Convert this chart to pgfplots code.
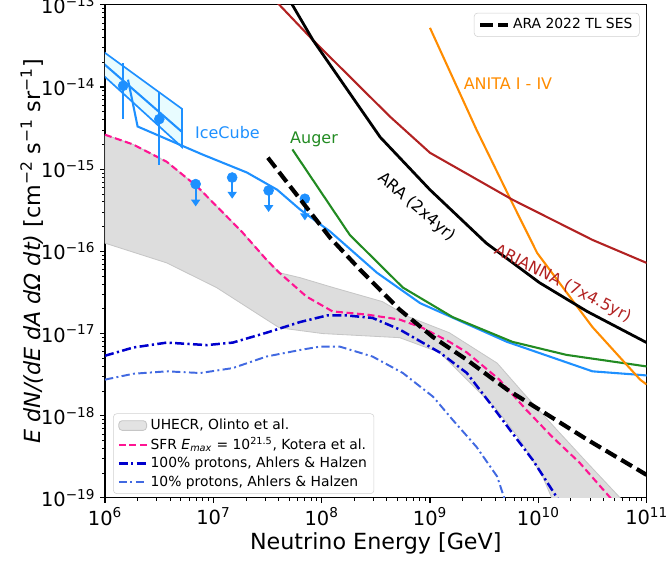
\documentclass[border=0pt]{standalone}
\usepackage{fontspec}
\setmainfont{DejaVu Sans}
\usepackage{pgfplots}
\pgfplotsset{compat=1.18}
\usetikzlibrary{arrows.meta}

\definecolor{icecube}{HTML}{1E90FF}
\definecolor{auger}{HTML}{228B22}
\definecolor{anita}{HTML}{FF8C00}
\definecolor{arianna}{HTML}{B22222}
\definecolor{sfr}{HTML}{FF1493}
\definecolor{prot100}{HTML}{0000CD}
\definecolor{prot10}{HTML}{4169E1}
\definecolor{band}{HTML}{DDDDDD}
\definecolor{bandedge}{HTML}{C6C6C6}
\definecolor{icebox}{HTML}{E8FCFF}

\pgfplotsset{
  legend image code/.code={\draw[#1] (0pt,0pt) -- (20pt,0pt);},
}

\begin{document}
\begin{tikzpicture}
\begin{axis}[name=main,
  scale only axis, width=390pt, height=355pt,
  xmode=log, ymode=log,
  xmin=1e6, xmax=1e11, ymin=1e-19, ymax=1e-13,
  axis line style={line width=0.8pt},
  tick align=outside, xtick pos=left, ytick pos=left,
  major tick length=3.5pt, minor tick length=2pt,
  major tick style={line width=0.8pt, black},
  minor tick style={line width=0.6pt, black},
  ticklabel style={font=\fontsize{14}{14}\selectfont},
  xtick={1e6,1e7,1e8,1e9,1e10,1e11},
  xticklabels={10\textsuperscript{6},10\textsuperscript{7},10\textsuperscript{8},10\textsuperscript{9},10\textsuperscript{10},10\textsuperscript{11}},
  minor xtick={2e6,3e6,4e6,5e6,6e6,7e6,8e6,9e6,
    2e7,3e7,4e7,5e7,6e7,7e7,8e7,9e7,
    2e8,3e8,4e8,5e8,6e8,7e8,8e8,9e8,
    2e9,3e9,4e9,5e9,6e9,7e9,8e9,9e9,
    2e10,3e10,4e10,5e10,6e10,7e10,8e10,9e10},
  ytick={1e-19,1e-18,1e-17,1e-16,1e-15,1e-14,1e-13},
  yticklabels={10\textsuperscript{−19},10\textsuperscript{−18},10\textsuperscript{−17},10\textsuperscript{−16},10\textsuperscript{−15},10\textsuperscript{−14},10\textsuperscript{−13}},
  minor ytick={2e-19,3e-19,4e-19,5e-19,6e-19,7e-19,8e-19,9e-19,
    2e-18,3e-18,4e-18,5e-18,6e-18,7e-18,8e-18,9e-18,
    2e-17,3e-17,4e-17,5e-17,6e-17,7e-17,8e-17,9e-17,
    2e-16,3e-16,4e-16,5e-16,6e-16,7e-16,8e-16,9e-16,
    2e-15,3e-15,4e-15,5e-15,6e-15,7e-15,8e-15,9e-15,
    2e-14,3e-14,4e-14,5e-14,6e-14,7e-14,8e-14,9e-14},
  xlabel={Neutrino Energy [GeV]},
  ylabel={{\itshape E dN/(dE dA dΩ dt)} [cm\textsuperscript{−2} s\textsuperscript{−1} sr\textsuperscript{−1}]},
  label style={font=\fontsize{16}{16}\selectfont},
  xlabel style={at={(axis description cs:0.5,-0.0913)}, anchor=center},
  ylabel style={at={(axis description cs:-0.1348,0.5)}, anchor=center},
  legend style={at={(0.015,0.008)}, anchor=south west, draw=black!18,
    rounded corners=2.5pt, fill=white, fill opacity=0.8, text opacity=1,
    font=\fontsize{10}{12}\selectfont},
  legend cell align=left,
]

% UHECR band, Olinto et al.
\addplot[fill=band, draw=bandedge, line width=0.6pt,
  legend image code/.code={\draw[##1] (0pt,-3.5pt) rectangle (20pt,3.5pt);}]
  coordinates {
  (1e6,2.63e-15) (1.82e6,2.0e-15) (3.72e6,1.23e-15) (7.08e6,6.17e-16)
  (1.148e7,3.24e-16) (1.86e7,1.70e-16) (3.09e7,7.94e-17) (4.07e7,5.50e-17)
  (6.31e7,4.79e-17) (1.20e8,3.72e-17) (3.63e8,2.45e-17) (6.46e8,1.585e-17)
  (1.51e9,1.023e-17) (4.17e9,4.37e-18) (7.24e9,1.905e-18) (1.48e10,6.76e-19)
  (2.82e10,2.69e-19) (5.62e10,1.02e-19) (6.31e10,8.7e-20)
  (1.445e10,8.7e-20) (1.35e10,9.55e-20) (1.096e10,1.82e-19) (6.76e9,5.13e-19)
  (4.17e9,1.175e-18) (2.19e9,2.75e-18) (1.23e9,5.89e-18) (5.25e8,8.91e-18)
  (1.02e8,1.0e-17) (4.07e7,1.175e-17) (3.09e7,1.48e-17) (1.07e7,3.63e-17)
  (3.72e6,7.24e-17) (1e6,1.26e-16) (1e6,2.63e-15)
  };
\addlegendentry{UHECR, Olinto et al.}

% SFR, Kotera et al.
\addplot[sfr, line width=1.5pt, dash pattern=on 5pt off 2.6pt] coordinates {
  (1e6,2.63e-15) (1.82e6,2.0e-15) (3.72e6,1.23e-15) (7.08e6,6.17e-16)
  (1.148e7,3.24e-16) (1.86e7,1.70e-16) (3.09e7,7.94e-17) (4.07e7,5.50e-17)
  (7.24e7,2.82e-17) (1.26e8,1.86e-17) (2.63e8,1.70e-17) (5.25e8,1.48e-17)
  (8.51e8,1.175e-17) (1.51e9,7.94e-18) (2.19e9,5.89e-18) (4.37e9,2.75e-18)
  (7.76e9,1.175e-18) (1.35e10,5.50e-19) (2.40e10,2.69e-19) (4.57e10,1.02e-19)
  (5.25e10,8.3e-20)
};
\addlegendentry{SFR {\itshape E\textsubscript{max}} = 10\textsuperscript{21.5}, Kotera et al.}

% 100% protons
\addplot[prot100, line width=1.8pt, dash pattern=on 6.5pt off 2.4pt on 1.6pt off 2.4pt] coordinates {
  (1e6,5.37e-18) (1.82e6,6.76e-18) (3.72e6,7.76e-18) (8.71e6,7.24e-18)
  (1.51e7,7.76e-18) (3.09e7,1.023e-17) (6.31e7,1.38e-17) (1.12e8,1.66e-17)
  (1.70e8,1.66e-17) (2.95e8,1.55e-17) (5.25e8,1.12e-17) (1.23e9,5.89e-18)
  (2.19e9,3.31e-18) (3.55e9,1.445e-18) (5.75e9,6.17e-19) (8.91e9,2.88e-19)
  (1.48e10,1.02e-19) (1.585e10,8.9e-20)
};
\addlegendentry{100\% protons, Ahlers \& Halzen}

% 10% protons
\addplot[prot10, line width=1.4pt, dash pattern=on 6pt off 2.4pt on 1.4pt off 2.4pt] coordinates {
  (1e6,2.75e-18) (1.82e6,3.24e-18) (3.72e6,3.47e-18) (7.59e6,3.31e-18)
  (1.51e7,3.80e-18) (3.09e7,5.25e-18) (6.31e7,6.31e-18) (9.55e7,6.92e-18)
  (1.48e8,6.92e-18) (2.95e8,5.25e-18) (5.62e8,3.31e-18) (1.07e9,1.70e-18)
  (1.62e9,8.91e-19) (2.69e9,4.17e-19) (4.17e9,1.82e-19) (4.90e9,9.55e-20)
  (5.13e9,8.3e-20)
};
\addlegendentry{10\% protons, Ahlers \& Halzen}

% IceCube
\addplot[forget plot, draw=icecube, fill=icebox, line width=1.2pt] coordinates {
  (7.94e5,3.25e-14) (5.13e6,5.43e-15) (5.13e6,1.86e-15) (7.94e5,1.754e-14) (7.94e5,3.25e-14)
};
\addplot[forget plot, icecube, line width=1.5pt] coordinates {
  (7.94e5,2.43e-14) (5.13e6,2.85e-15)
};
\addplot[forget plot, icecube, line width=1.5pt] coordinates {
  (1.63e6,1.23e-14) (2.0e6,3.31e-15) (7.94e6,1.51e-15) (2.04e7,9.12e-16)
  (3.89e7,5.62e-16) (6.31e7,3.24e-16) (1.20e8,1.74e-16) (3.24e8,5.50e-17)
  (8.13e8,2.34e-17) (5.13e9,7.94e-18) (3.16e10,3.47e-18) (8.13e10,3.16e-18)
  (1e11,3.09e-18)
};
% IceCube points with error bars
\addplot[forget plot, icecube, line width=1.5pt] coordinates {(1.47e6,4.10e-15) (1.47e6,1.97e-14)};
\addplot[forget plot, icecube, line width=1.5pt] coordinates {(3.17e6,1.13e-15) (3.17e6,8.75e-15)};
\addplot[forget plot, only marks, mark=*, mark size=3.6pt, icecube] coordinates {
  (1.47e6,1.035e-14) (3.17e6,4.07e-15)
  (6.87e6,6.59e-16) (1.493e7,7.92e-16) (3.24e7,5.51e-16) (7.0e7,4.37e-16)
};
% upper limits
\addplot[forget plot, icecube, line width=1.5pt, -{Triangle[width=6.5pt,length=5pt]}] coordinates {(6.87e6,6.59e-16) (6.87e6,3.52e-16)};
\addplot[forget plot, icecube, line width=1.5pt, -{Triangle[width=6.5pt,length=5pt]}] coordinates {(1.493e7,7.92e-16) (1.493e7,4.37e-16)};
\addplot[forget plot, icecube, line width=1.5pt, -{Triangle[width=6.5pt,length=5pt]}] coordinates {(3.24e7,5.51e-16) (3.24e7,3.01e-16)};
\addplot[forget plot, icecube, line width=1.5pt, -{Triangle[width=6.5pt,length=5pt]}] coordinates {(7.0e7,4.37e-16) (7.0e7,2.38e-16)};

% Auger
\addplot[forget plot, auger, line width=1.5pt] coordinates {
  (5.37e7,1.74e-15) (1.82e8,1.585e-16) (5.62e8,3.63e-17) (1.62e9,1.585e-17)
  (5.75e9,7.94e-18) (1.82e10,5.50e-18) (1e11,3.98e-18)
};

% ANITA I - IV
\addplot[forget plot, anita, line width=1.5pt] coordinates {
  (1e9,5.25e-14) (2.69e9,3.02e-15) (5.75e9,3.89e-16) (9.77e9,9.55e-17)
  (3.16e10,1.20e-17) (8.71e10,2.75e-18) (1e11,2.40e-18)
};

% ARIANNA
\addplot[forget plot, arianna, line width=1.5pt] coordinates {
  (3.72e7,1.135e-13) (8.32e7,3.72e-14) (4.27e8,4.37e-15) (1e9,1.585e-15)
  (5.75e9,4.27e-16) (3.16e10,1.38e-16) (1e11,7.24e-17)
};

% ARA (2x4yr)
\addplot[forget plot, black, line width=2pt] coordinates {
  (4.79e7,1.29e-13) (8.32e7,3.72e-14) (3.47e8,2.455e-15) (1e9,5.62e-16)
  (3.31e9,1.26e-16) (1.023e10,4.17e-17) (2.82e10,1.86e-17) (1e11,7.76e-18)
};

\node[inner sep=0pt, anchor=west, text=icecube, font=\fontsize{11.5}{12}\selectfont] at (axis cs:6.76e6,2.77e-15) {IceCube};
\node[inner sep=0pt, anchor=west, text=auger, font=\fontsize{11.5}{12}\selectfont] at (axis cs:5.1e7,2.28e-15) {Auger};
\node[inner sep=0pt, anchor=west, text=anita, font=\fontsize{11.5}{12}\selectfont] at (axis cs:2.04e9,1.11e-14) {ANITA I - IV};
\node[inner sep=0pt, rotate=-40, text=black, font=\fontsize{11.5}{12}\selectfont] at (axis cs:7.55e8,3.44e-16) {ARA (2x4yr)};
\node[inner sep=0pt, rotate=-27, text=arianna, font=\fontsize{11.5}{12}\selectfont] at (axis cs:1.68e10,4.04e-17) {ARIANNA (7x4.5yr)};
\end{axis}

\begin{axis}[
  scale only axis, width=390pt, height=355pt,
  xmode=log, ymode=log,
  xmin=1e6, xmax=1e11, ymin=1e-19, ymax=1e-13,
  hide axis,
  legend style={at={(0.987,0.984)}, anchor=north east, draw=black!18,
    rounded corners=2.5pt, fill=white, fill opacity=0.8, text opacity=1,
    font=\fontsize{10}{12}\selectfont},
]
\addplot[black, line width=3pt, dash pattern=on 9pt off 4pt] coordinates {
  (3.19e7,1.38e-15) (1.19e8,1.48e-16) (2.25e8,6.03e-17) (5.26e8,1.95e-17)
  (1.06e9,9.12e-18) (2.19e9,4.79e-18) (5.13e9,2.09e-18) (1.096e10,1.12e-18)
  (2.82e10,5.13e-19) (1e11,1.905e-19)
};
\addlegendentry{ARA 2022 TL SES}
\end{axis}

\pgfresetboundingbox
\path[use as bounding box] (main.south west) ++(-75.6pt,-47.5pt) rectangle ++(481pt,406pt);
\end{tikzpicture}
\end{document}
